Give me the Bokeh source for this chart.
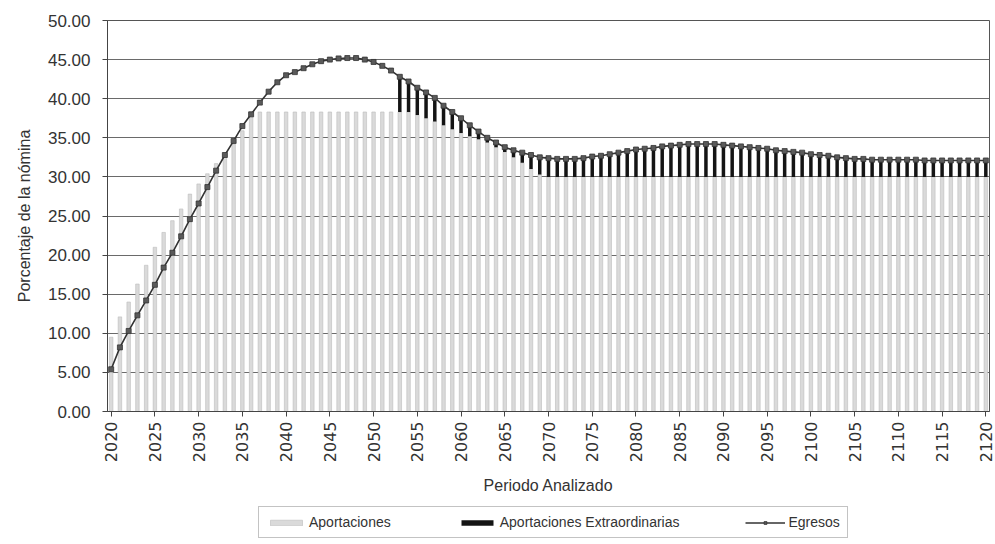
import math
from bokeh.plotting import figure
from bokeh.layouts import column
from bokeh.models import (ColumnDataSource, Legend, LegendItem, FixedTicker,
                          NumeralTickFormatter, Range1d)
from bokeh.embed import file_html
from bokeh.resources import INLINE

years = list(range(2020, 2121))

egresos = [
    5.4, 8.2, 10.3, 12.3, 14.2, 16.2, 18.4, 20.3, 22.4, 24.6,      # 2020-2029
    26.6, 28.7, 30.8, 32.8, 34.6, 36.5, 38.0, 39.5, 40.9, 42.1,    # 2030-2039
    43.0, 43.4, 43.9, 44.4, 44.8, 45.0, 45.15, 45.2, 45.2, 45.0,   # 2040-2049
    44.7, 44.2, 43.6, 42.8, 42.2, 41.4, 40.8, 40.1, 39.1, 38.3,    # 2050-2059
    37.5, 36.6, 35.8, 35.0, 34.4, 33.8, 33.4, 33.1, 32.8, 32.5,    # 2060-2069
    32.4, 32.3, 32.3, 32.3, 32.4, 32.6, 32.7, 32.9, 33.1, 33.3,    # 2070-2079
    33.5, 33.6, 33.7, 33.9, 34.0, 34.1, 34.2, 34.2, 34.2, 34.2,    # 2080-2089
    34.1, 34.0, 33.9, 33.8, 33.7, 33.6, 33.4, 33.3, 33.2, 33.1,    # 2090-2099
    32.9, 32.8, 32.7, 32.5, 32.4, 32.3, 32.3, 32.2, 32.2, 32.2,    # 2100-2109
    32.2, 32.2, 32.2, 32.1, 32.1, 32.1, 32.1, 32.1, 32.1, 32.1,    # 2110-2119
    32.1,                                                          # 2120
]

aportaciones = [
    9.5, 12.1, 14.0, 16.3, 18.7, 21.0, 22.9, 24.4, 25.9, 27.8,     # 2020-2029
    29.1, 30.4, 31.7, 33.0, 34.2, 35.9, 38.3, 38.3, 38.3, 38.3,    # 2030-2039
    38.3, 38.3, 38.3, 38.3, 38.3, 38.3, 38.3, 38.3, 38.3, 38.3,    # 2040-2049
    38.3, 38.3, 38.3, 38.3, 38.3, 37.9, 37.5, 37.1, 36.6, 36.1,    # 2050-2059
    35.6, 35.2, 34.8, 34.4, 33.8, 33.2, 32.5, 31.8, 31.0, 30.3,    # 2060-2069
    30.0, 30.0, 30.0, 30.0, 30.0, 30.0, 30.0, 30.0, 30.0, 30.0,    # 2070-2079
    30.0, 30.0, 30.0, 30.0, 30.0, 30.0, 30.0, 30.0, 30.0, 30.0,    # 2080-2089
    30.0, 30.0, 30.0, 30.0, 30.0, 30.0, 30.0, 30.0, 30.0, 30.0,    # 2090-2099
    30.0, 30.0, 30.0, 30.0, 30.0, 30.0, 30.0, 30.0, 30.0, 30.0,    # 2100-2109
    30.0, 30.0, 30.0, 30.0, 30.0, 30.0, 30.0, 30.0, 30.0, 30.0,    # 2110-2119
    30.0,                                                          # 2120
]

extraordinarias = [
    0, 0, 0, 0, 0, 0, 0, 0, 0, 0,                                  # 2020-2029
    0, 0, 0, 0, 0, 0, 0, 0, 0, 0,                                  # 2030-2039
    0, 0, 0, 0, 0, 0, 0, 0, 0, 0,                                  # 2040-2049
    0, 0, 0, 4.5, 3.9, 3.5, 3.3, 3.0, 2.5, 2.2,                    # 2050-2059
    1.9, 1.4, 1.0, 0.6, 0.6, 0.6, 0.9, 1.3, 1.8, 2.2,              # 2060-2069
    2.4, 2.3, 2.3, 2.3, 2.4, 2.6, 2.7, 2.9, 3.1, 3.3,              # 2070-2079
    3.5, 3.6, 3.7, 3.9, 4.0, 4.1, 4.2, 4.2, 4.2, 4.2,              # 2080-2089
    4.1, 4.0, 3.9, 3.8, 3.7, 3.6, 3.4, 3.3, 3.2, 3.1,              # 2090-2099
    2.9, 2.8, 2.7, 2.5, 2.4, 2.3, 2.3, 2.2, 2.2, 2.2,              # 2100-2109
    2.2, 2.2, 2.2, 2.1, 2.1, 2.1, 2.1, 2.1, 2.1, 2.1,              # 2110-2119
    2.1,                                                           # 2120
]

x_ticks = [2020, 2025, 2030, 2035, 2040, 2045, 2050, 2055, 2060, 2065, 2070,
           2075, 2080, 2085, 2090, 2095, 2100, 2105, 2110, 2115, 2120]
y_ticks = [0, 5, 10, 15, 20, 25, 30, 35, 40, 45, 50]

APO_FILL, APO_LINE = "#dadada", "#bcbcbc"
EXT_FILL = "#141414"
EGR_LINE, EGR_MARK = "#333333", "#5a5a5a"

src = ColumnDataSource(dict(year=years, apo=aportaciones,
                            extra=extraordinarias, egr=egresos))

p = figure(width=995, height=500, output_backend="svg",
           toolbar_location=None,
           x_range=Range1d(2019.58, 2120.42), y_range=Range1d(0, 50),
           min_border_left=107, min_border_right=6, min_border_top=20,
           min_border_bottom=89)
p.background_fill_color = "white"
p.border_fill_color = "white"
p.outline_line_color = "#555555"

bars = p.vbar_stack(["apo", "extra"], x="year", width=0.4, source=src,
                    fill_color=[APO_FILL, EXT_FILL],
                    line_color=[APO_LINE, None], line_width=0.6)
ln = p.line("year", "egr", source=src, line_color=EGR_LINE, line_width=1.6)
sc = p.scatter("year", "egr", source=src, marker="square", size=5,
               fill_color=EGR_MARK, line_color=EGR_LINE, line_width=0.8)

# axes
p.xaxis.ticker = FixedTicker(ticks=x_ticks)
p.yaxis.ticker = FixedTicker(ticks=y_ticks)
p.yaxis.formatter = NumeralTickFormatter(format="0.00")
p.xaxis.major_label_orientation = math.pi / 2
for ax in (p.xaxis, p.yaxis):
    ax.minor_tick_line_color = None
    ax.major_tick_in = 0
    ax.major_tick_out = 5
    ax.axis_line_color = "#444444"
    ax.major_tick_line_color = "#444444"
    ax.major_label_text_color = "#333333"
    ax.axis_label_text_color = "#333333"
    ax.axis_label_text_font_style = "normal"
    ax.axis_label_text_font_size = "16px"
    ax.axis_label_text_font = "Liberation Sans"
p.xaxis.major_label_text_font = "DejaVu Sans"
p.xaxis.major_label_text_font_size = "16px"
p.xaxis.major_label_standoff = 5
p.xaxis.axis_label = "Periodo Analizado"
p.xaxis.axis_label_standoff = 12
p.yaxis.major_label_text_font = "Liberation Sans"
p.yaxis.major_label_text_font_size = "17px"
p.yaxis.major_label_standoff = 12
p.yaxis.axis_label = "Porcentaje de la nómina"
p.yaxis.axis_label_standoff = 12

p.xgrid.grid_line_color = None
p.ygrid.grid_line_color = "#6a6a6a"
p.ygrid.grid_line_width = 1

# legend strip below the chart: its own small figure whose (hidden)
# renderers only provide the legend swatches
lf = figure(width=995, height=44, output_backend="svg", toolbar_location=None,
            x_range=Range1d(0, 1), y_range=Range1d(0, 1),
            x_axis_type=None, y_axis_type=None,
            min_border_left=0, min_border_right=0, min_border_top=0,
            min_border_bottom=0)
lf.outline_line_color = None
lf.grid.grid_line_color = None
g1 = lf.vbar(x="year", top="apo", source=src, width=0.4, fill_color=APO_FILL,
             line_color=APO_LINE, line_width=0.6)
g2 = lf.vbar(x="year", top="extra", source=src, width=0.4, fill_color=EXT_FILL,
             line_color=None)
g3 = lf.line(x="year", y="egr", source=src, line_color=EGR_LINE, line_width=1.6)
g4 = lf.scatter(x="year", y="egr", source=src, marker="square", size=5,
                fill_color=EGR_MARK, line_color=EGR_LINE, line_width=0.8)
for g in (g1, g2, g3, g4):
    g.visible = False

legend = Legend(items=[
    LegendItem(label="Aportaciones", renderers=[g1]),
    LegendItem(label="Aportaciones Extraordinarias", renderers=[g2]),
    LegendItem(label="Egresos", renderers=[g3, g4]),
], orientation="horizontal", location=(151, 6))
legend.click_policy = "none"
legend.inactive_fill_alpha = 0
legend.glyph_width = 40
legend.glyph_height = 7
legend.label_text_font = "Liberation Sans"
legend.label_text_font_size = "14px"
legend.label_text_color = "#333333"
legend.label_height = 16
legend.label_standoff = 3
legend.spacing = 66
legend.padding = 7
legend.margin = 0
legend.border_line_color = "#888888"
legend.border_line_width = 1
legend.background_fill_color = "white"
lf.add_layout(legend, "center")

layout = column(p, lf, spacing=0)
open("out.html", "w").write(file_html(layout, INLINE))
